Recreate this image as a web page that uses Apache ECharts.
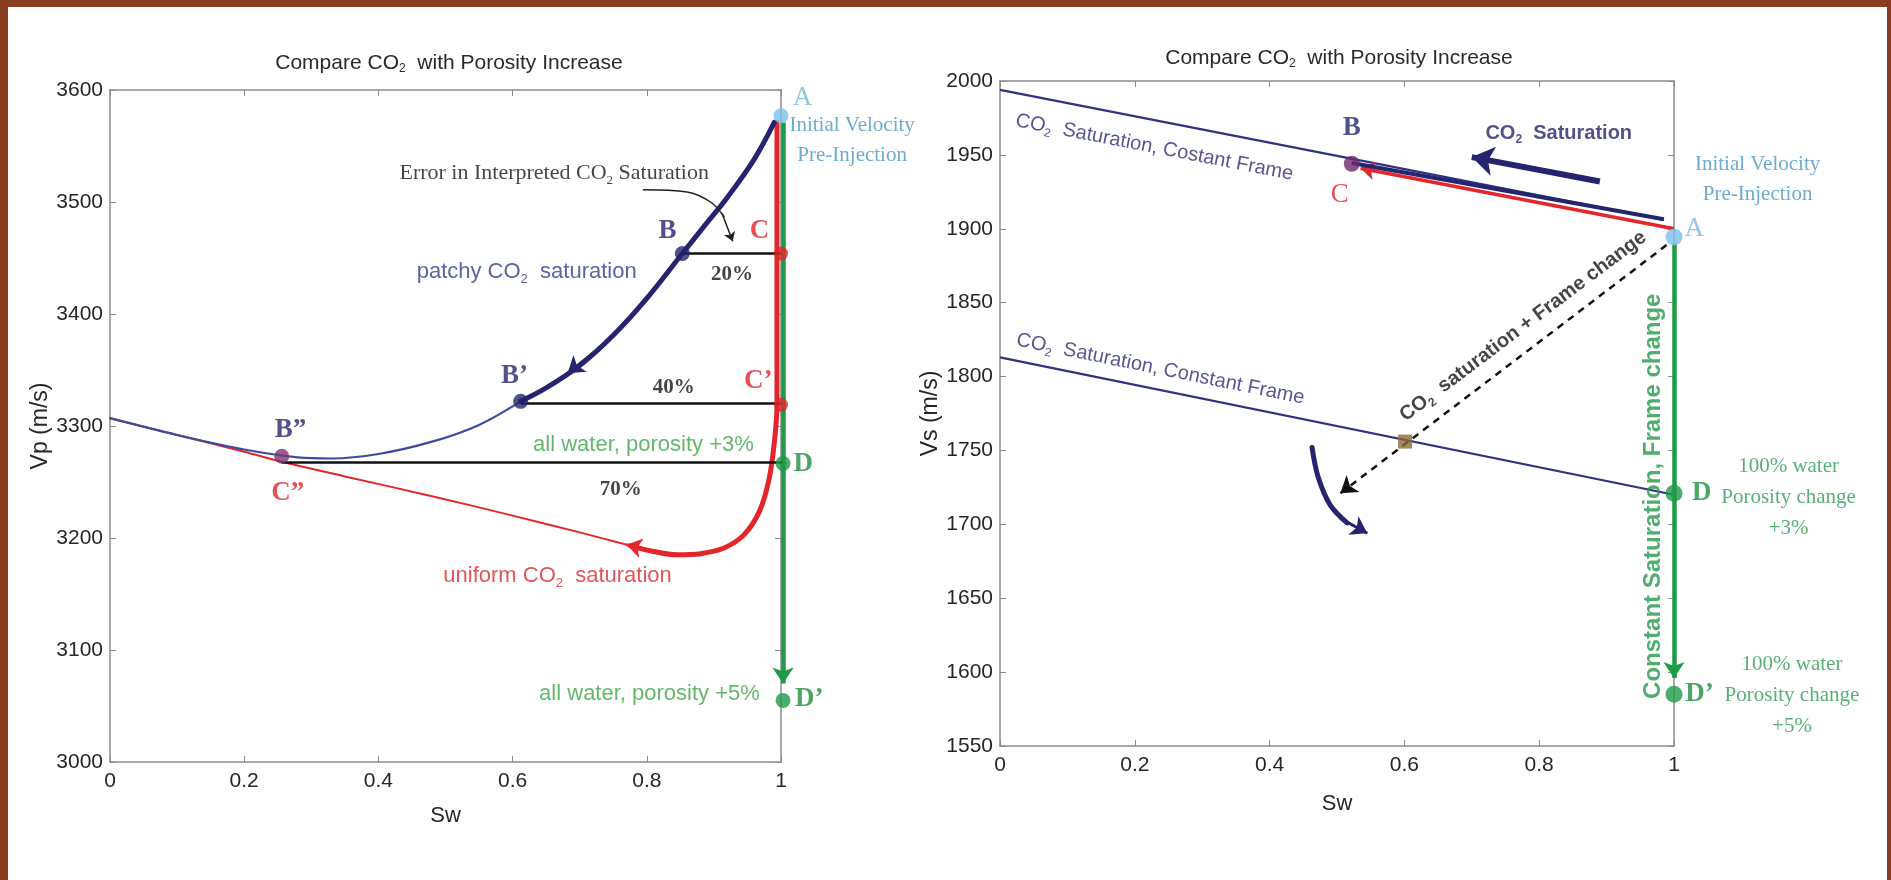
<!DOCTYPE html>
<html>
<head>
<meta charset="utf-8">
<title>Compare CO2 with Porosity Increase</title>
<script src="https://cdn.jsdelivr.net/npm/echarts@6/dist/echarts.min.js"></script>
<style>
  html, body { margin: 0; padding: 0; background: #ffffff; overflow: hidden; }
  #chart { position: absolute; left: 0; top: 0; width: 1891px; height: 880px; }
  .frame { position: absolute; background: #8a3d22; }
</style>
</head>
<body>
<div id="chart"></div>
<div class="frame" style="left:0;top:0;width:1891px;height:7px"></div>
<div class="frame" style="left:0;top:0;width:8px;height:880px"></div>
<div class="frame" style="left:1887px;top:0;width:4px;height:880px"></div>
<script>
// ---------- axis ranges ----------
const swRange = [0, 1];
const swStep = 0.2;
const vpRange = [3000, 3600];
const vpStep = 100;
const vsRange = [1550, 2000];
const vsStep = 50;

// ---------- Vp panel (left) ----------
// patchy CO2 saturation, A -> B -> B'
const vpPatchyMain = [[0.99, 3571], [0.96, 3538], [0.92, 3504], [0.885, 3478], [0.853, 3454],
  [0.8, 3414], [0.75, 3381], [0.7, 3354], [0.65, 3334], [0.612, 3322]];
// patchy continuation, B' -> Sw = 0
const vpPatchyTail = [[0.612, 3322], [0.55, 3301], [0.48, 3286], [0.4, 3275], [0.33, 3271],
  [0.28, 3272], [0.2, 3279], [0.1, 3292], [0, 3307]];
// uniform CO2 saturation, A -> C -> C' -> minimum
const vpUniformMain = [[0.994, 3571], [0.994, 3454], [0.994, 3319], [0.99, 3285], [0.982, 3252],
  [0.968, 3224], [0.945, 3203], [0.915, 3191], [0.88, 3186], [0.845, 3185], [0.81, 3188], [0.776, 3193]];
// uniform continuation -> Sw = 0
const vpUniformTail = [[0.776, 3193], [0.7, 3205], [0.6, 3220], [0.475, 3238], [0.35, 3255],
  [0.256, 3268], [0.2, 3277], [0.1, 3292], [0, 3307]];
// all-water path with increasing porosity
const vpWaterPath = [[1.003, 3571], [1.003, 3070]];
// interpreted-saturation error bars: B-C, B'-C', B''-D
const vpErrorBars = [
  [[0.853, 3454], [1, 3454]],
  [[0.612, 3320], [1, 3320]],
  [[0.256, 3267.5], [1.003, 3267.5]]
];
// direction arrows along the curves
const vpPatchyArrow = [[0.73, 3370], [0.682, 3347]];
const vpUniformArrow = [[0.82, 3187], [0.77, 3194]];
// leader from the error note to the B-C bar
const vpErrorLeader = [[0.795, 3511], [0.86, 3509], [0.895, 3500], [0.915, 3487]];
const vpErrorLeaderTip = [[0.912, 3490], [0.928, 3465]];
// state points
const vpPoints = [
  { id: 'A', at: [1, 3577] },
  { id: 'B', at: [0.853, 3454] },
  { id: 'C', at: [1, 3454] },
  { id: "B'", at: [0.612, 3322] },
  { id: "C'", at: [1, 3319] },
  { id: "B''", at: [0.256, 3273] },
  { id: 'D', at: [1.003, 3266.5] },
  { id: "D'", at: [1.003, 3055] }
];
// text notes
const vpNotes = [
  { role: 'letterLight', text: 'A', at: [1.032, 3593] },
  { role: 'initial', text: 'Initial Velocity\nPre-Injection', at: [1.106, 3555] },
  { role: 'errorNote', text: 'Error in Interpreted CO{s|2} Saturation', at: [0.662, 3526] },
  { role: 'letterNavy', text: 'B', at: [0.831, 3474] },
  { role: 'letterRed', text: 'C', at: [0.968, 3474] },
  { role: 'pct', text: '20%', at: [0.927, 3435] },
  { role: 'patchy', text: 'patchy CO{s|2}  saturation', at: [0.621, 3438] },
  { role: 'letterNavy', text: 'B\u2019', at: [0.603, 3345] },
  { role: 'letterRed', text: 'C\u2019', at: [0.966, 3340] },
  { role: 'pct', text: '40%', at: [0.84, 3334] },
  { role: 'water', text: 'all water, porosity +3%', at: [0.795, 3283] },
  { role: 'letterNavy', text: 'B\u201D', at: [0.269, 3296] },
  { role: 'letterRed', text: 'C\u201D', at: [0.265, 3240] },
  { role: 'letterGreen', text: 'D', at: [1.033, 3266] },
  { role: 'pct', text: '70%', at: [0.761, 3243] },
  { role: 'uniform', text: 'uniform CO{s|2}  saturation', at: [0.667, 3166] },
  { role: 'water', text: 'all water, porosity +5%', at: [0.804, 3061] },
  { role: 'letterGreen', text: 'D\u2019', at: [1.042, 3056] }
];

// ---------- Vs panel (right) ----------
const vsFrameUpper = [[0, 1994], [0.985, 1906]];
const vsFrameLower = [[0, 1813], [1, 1720]];
const vsPatchy = [[0.522, 1944.5], [0.985, 1906.5]];
const vsUniform = [[1, 1900], [0.535, 1941]];
const vsWaterPath = [[1, 1890], [1, 1596]];
const vsCombinedPath = [[0.989, 1889], [0.505, 1721]];
const vsSaturationArrow = [[0.89, 1932], [0.7, 1948.5]];
const vsTurnCurve = [[0.463, 1752], [0.472, 1732], [0.49, 1713], [0.515, 1701]];
const vsTurnTip = [[0.505, 1704], [0.545, 1694]];
const vsPoints = [
  { id: 'A', at: [1, 1894.5] },
  { id: 'B', at: [0.522, 1944] },
  { id: 'X', at: [0.601, 1756] },
  { id: 'D', at: [1, 1721] },
  { id: "D'", at: [1, 1585] }
];
const vsNotes = [
  { role: 'frameUpper', text: 'CO{s|2}  Saturation, Costant Frame', at: [0.229, 1955] },
  { role: 'letterNavy', text: 'B', at: [0.522, 1968] },
  { role: 'letterRedPlain', text: 'C', at: [0.504, 1923] },
  { role: 'satBold', text: 'CO{s|2}  Saturation', at: [0.829, 1964.5] },
  { role: 'initial', text: 'Initial Velocity\nPre-Injection', at: [1.124, 1933.5] },
  { role: 'letterLight', text: 'A', at: [1.03, 1900] },
  { role: 'frameLower', text: 'CO{s|2}  Saturation, Constant Frame', at: [0.238, 1805] },
  { role: 'diag', text: 'CO{s|2}  saturation + Frame change', at: [0.776, 1834] },
  { role: 'vert', text: 'Constant Saturation, Frame change', at: [0.969, 1719] },
  { role: 'letterGreen', text: 'D', at: [1.041, 1721] },
  { role: 'waterNote', text: '100% water\nPorosity change\n+3%', at: [1.17, 1718] },
  { role: 'letterGreen', text: 'D\u2019', at: [1.038, 1585] },
  { role: 'waterNote', text: '100% water\nPorosity change\n+5%', at: [1.175, 1584] }
];

// ---------- styles ----------
const SANS = '"Liberation Sans", Arial, Helvetica, sans-serif';
const SERIF = '"Liberation Serif", "Times New Roman", serif';
const C = {
  navy: '#24256e', blueThin: '#3b4c9e', red: '#e2262b', green: '#1f9a46',
  light: '#7cc0ea', purple: '#7a3474', axis: '#8c8c8c', tick: '#262626',
  frameLine: '#2f3380', square: '#8f6a33'
};
const ROLE = {
  letterLight: { family: SERIF, size: 27, color: '#7bb7e0' },
  letterNavy: { family: SERIF, size: 27, weight: 'bold', color: '#25256f' },
  letterRed: { family: SERIF, size: 27, weight: 'bold', color: '#e0262b' },
  letterRedPlain: { family: SERIF, size: 27, color: '#e0262b' },
  letterGreen: { family: SERIF, size: 27, weight: 'bold', color: '#1e8f3f' },
  initial: { family: SERIF, size: 21, color: '#4896c4', lh: 30 },
  errorNote: { family: SERIF, size: 22, color: '#151515' },
  pct: { family: SERIF, size: 21, weight: 'bold', color: '#151515' },
  patchy: { family: SANS, size: 22, color: '#2d3c8e' },
  uniform: { family: SANS, size: 22, color: '#d92a2e' },
  water: { family: SANS, size: 22, color: '#3ba845' },
  frameUpper: { family: SANS, size: 20, color: '#2c2c78', rotate: -11 },
  frameLower: { family: SANS, size: 20, color: '#2c2c78', rotate: -11.5 },
  satBold: { family: SANS, size: 20, weight: 'bold', color: '#25256e' },
  diag: { family: SANS, size: 20, weight: 'bold', color: '#151515', rotate: 37 },
  vert: { family: SANS, size: 24, weight: 'bold', color: '#24984a', rotate: 90 },
  waterNote: { family: SERIF, size: 21, color: '#2e9c52', lh: 31 }
};
const POINT_STYLE = {
  'A': { color: C.light, size: 15 },
  'B': { color: C.navy, size: 15 },
  'C': { color: C.red, size: 14 },
  "B'": { color: C.navy, size: 15 },
  "C'": { color: C.red, size: 14 },
  "B''": { color: C.purple, size: 15 },
  'D': { color: C.green, size: 15 },
  "D'": { color: C.green, size: 15 }
};
const VS_POINT_STYLE = {
  'A': { color: C.light, size: 17 },
  'B': { color: '#6a2b6c', size: 16 },
  'X': { color: C.square, size: 14, symbol: 'rect' },
  'D': { color: C.green, size: 17 },
  "D'": { color: C.green, size: 17 }
};

function noteLabel(role, text) {
  const s = ROLE[role];
  const w = s.weight || 'normal';
  const lh = s.lh || Math.round(s.size * 1.25);
  const subSize = Math.round(s.size * 0.6);
  return {
    show: true, position: 'inside', formatter: text, rotate: s.rotate || 0,
    fontFamily: s.family, fontSize: s.size, fontWeight: w, color: s.color,
    lineHeight: lh, align: 'center', verticalAlign: 'middle',
    rich: {
      s: { fontFamily: s.family, fontSize: subSize, fontWeight: w, color: s.color,
           lineHeight: subSize, verticalAlign: 'bottom' }
    }
  };
}

function noteSeries(notes, gi) {
  return {
    type: 'scatter', xAxisIndex: gi * 2, yAxisIndex: gi * 2, clip: false, silent: true, z: 20,
    symbol: 'circle', symbolSize: 1, itemStyle: { color: 'rgba(0,0,0,0)' },
    data: notes.map(n => ({ value: n.at, label: noteLabel(n.role, n.text) }))
  };
}

function pointSeries(points, styles, gi) {
  return {
    type: 'scatter', xAxisIndex: gi * 2, yAxisIndex: gi * 2, clip: false, silent: true, z: 12,
    data: points.map(p => {
      const st = styles[p.id];
      return { value: p.at, symbol: st.symbol || 'circle', symbolSize: st.size, itemStyle: { color: st.color } };
    })
  };
}

function curve(points, gi, color, width, z) {
  return {
    type: 'line', xAxisIndex: gi * 2, yAxisIndex: gi * 2, data: points, showSymbol: false,
    symbol: 'none', smooth: 0.35, clip: false, silent: true, z: z || 5,
    lineStyle: { color: color, width: width, cap: 'round', join: 'round' }
  };
}

function segments(list, gi, color, width, opts) {
  opts = opts || {};
  return {
    type: 'lines', coordinateSystem: 'cartesian2d', xAxisIndex: gi * 2, yAxisIndex: gi * 2,
    clip: false, silent: true, z: opts.z || 6,
    symbol: opts.arrow ? ['none', 'arrow'] : ['none', 'none'],
    symbolSize: opts.arrowSize || 14,
    lineStyle: { color: color, width: width, type: opts.dash || 'solid', opacity: 1, curveness: 0 },
    data: list.map(c => ({ coords: c }))
  };
}

const plainNumber = v => String(+(+v).toFixed(2));

function xAxes(gi) {
  const base = {
    gridIndex: gi, type: 'value', min: swRange[0], max: swRange[1], interval: swStep,
    splitLine: { show: false },
    axisLine: { show: true, onZero: false, lineStyle: { color: C.axis, width: 1.5 } },
    axisTick: { show: true, inside: true, length: 6, lineStyle: { color: C.axis, width: 1 } }
  };
  return [
    Object.assign({}, base, {
      position: 'bottom', name: 'Sw', nameLocation: 'middle', nameGap: gi === 0 ? 43 : 47,
      nameTextStyle: { fontFamily: SANS, fontSize: 22, color: C.tick },
      axisLabel: { show: true, color: C.tick, fontFamily: SANS, fontSize: 21, margin: 9, formatter: plainNumber }
    }),
    Object.assign({}, base, { position: 'top', axisLabel: { show: false } })
  ];
}

function yAxes(gi, range, step, name) {
  const base = {
    gridIndex: gi, type: 'value', min: range[0], max: range[1], interval: step,
    splitLine: { show: false },
    axisLine: { show: true, onZero: false, lineStyle: { color: C.axis, width: 1.5 } },
    axisTick: { show: true, inside: true, length: 6, lineStyle: { color: C.axis, width: 1 } }
  };
  return [
    Object.assign({}, base, {
      position: 'left', name: name, nameLocation: 'middle', nameGap: gi === 0 ? 57 : 56,
      nameTextStyle: { fontFamily: SANS, fontSize: 23, color: C.tick },
      axisLabel: { show: true, color: C.tick, fontFamily: SANS, fontSize: 21, margin: 7, formatter: plainNumber }
    }),
    Object.assign({}, base, { position: 'right', axisLabel: { show: false } })
  ];
}

function titleOf(x, y) {
  return {
    text: 'Compare CO{s|2}  with Porosity Increase', left: x, top: y, textAlign: 'center',
    textStyle: {
      fontFamily: SANS, fontSize: 21, fontWeight: 'normal', color: '#2a2a2a', lineHeight: 24,
      rich: { s: { fontFamily: SANS, fontSize: 12, color: '#2a2a2a', lineHeight: 12, verticalAlign: 'bottom' } }
    }
  };
}

const chart = echarts.init(document.getElementById('chart'), null, { renderer: 'canvas' });

const option = {
  backgroundColor: '#ffffff',
  animation: false,
  title: [titleOf(444, 46), titleOf(1334, 41)],
  grid: [
    { left: 110, top: 90, width: 671, height: 672, show: false },
    { left: 1000, top: 81, width: 674, height: 665, show: false }
  ],
  xAxis: xAxes(0).concat(xAxes(1)),
  yAxis: yAxes(0, vpRange, vpStep, 'Vp (m/s)').concat(yAxes(1, vsRange, vsStep, 'Vs (m/s)')),
  series: [
    // ----- Vp panel -----
    curve(vpUniformTail, 0, C.red, 2, 4),
    curve(vpPatchyTail, 0, C.blueThin, 2.2, 5),
    segments([vpWaterPath], 0, C.green, 4.5, { arrow: true, arrowSize: 16, z: 6 }),
    curve(vpUniformMain, 0, C.red, 5, 7),
    curve(vpPatchyMain, 0, C.navy, 5, 7),
    segments(vpErrorBars, 0, '#111111', 2.5, { z: 8 }),
    segments([vpPatchyArrow], 0, C.navy, 3, { arrow: true, arrowSize: 16, z: 8 }),
    segments([vpUniformArrow], 0, C.red, 3, { arrow: true, arrowSize: 15, z: 8 }),
    curve(vpErrorLeader, 0, '#222222', 1.5, 8),
    segments([vpErrorLeaderTip], 0, '#222222', 1.5, { arrow: true, arrowSize: 9, z: 8 }),
    pointSeries(vpPoints, POINT_STYLE, 0),
    noteSeries(vpNotes, 0),

    // ----- Vs panel -----
    segments([vsFrameUpper, vsFrameLower], 1, C.frameLine, 2.2, { z: 4 }),
    segments([vsUniform], 1, C.red, 3.5, { arrow: true, arrowSize: 14, z: 6 }),
    segments([vsPatchy], 1, C.navy, 4, { z: 7 }),
    segments([vsWaterPath], 1, C.green, 4.5, { arrow: true, arrowSize: 16, z: 6 }),
    segments([vsCombinedPath], 1, '#111111', 2.5, { arrow: true, arrowSize: 16, dash: [7, 6], z: 6 }),
    segments([vsSaturationArrow], 1, C.navy, 6, { arrow: true, arrowSize: 22, z: 7 }),
    curve(vsTurnCurve, 1, C.navy, 5, 7),
    segments([vsTurnTip], 1, C.navy, 3, { arrow: true, arrowSize: 16, z: 7 }),
    pointSeries(vsPoints, VS_POINT_STYLE, 1),
    noteSeries(vsNotes, 1)
  ]
};

chart.setOption(option);
</script>
</body>
</html>
